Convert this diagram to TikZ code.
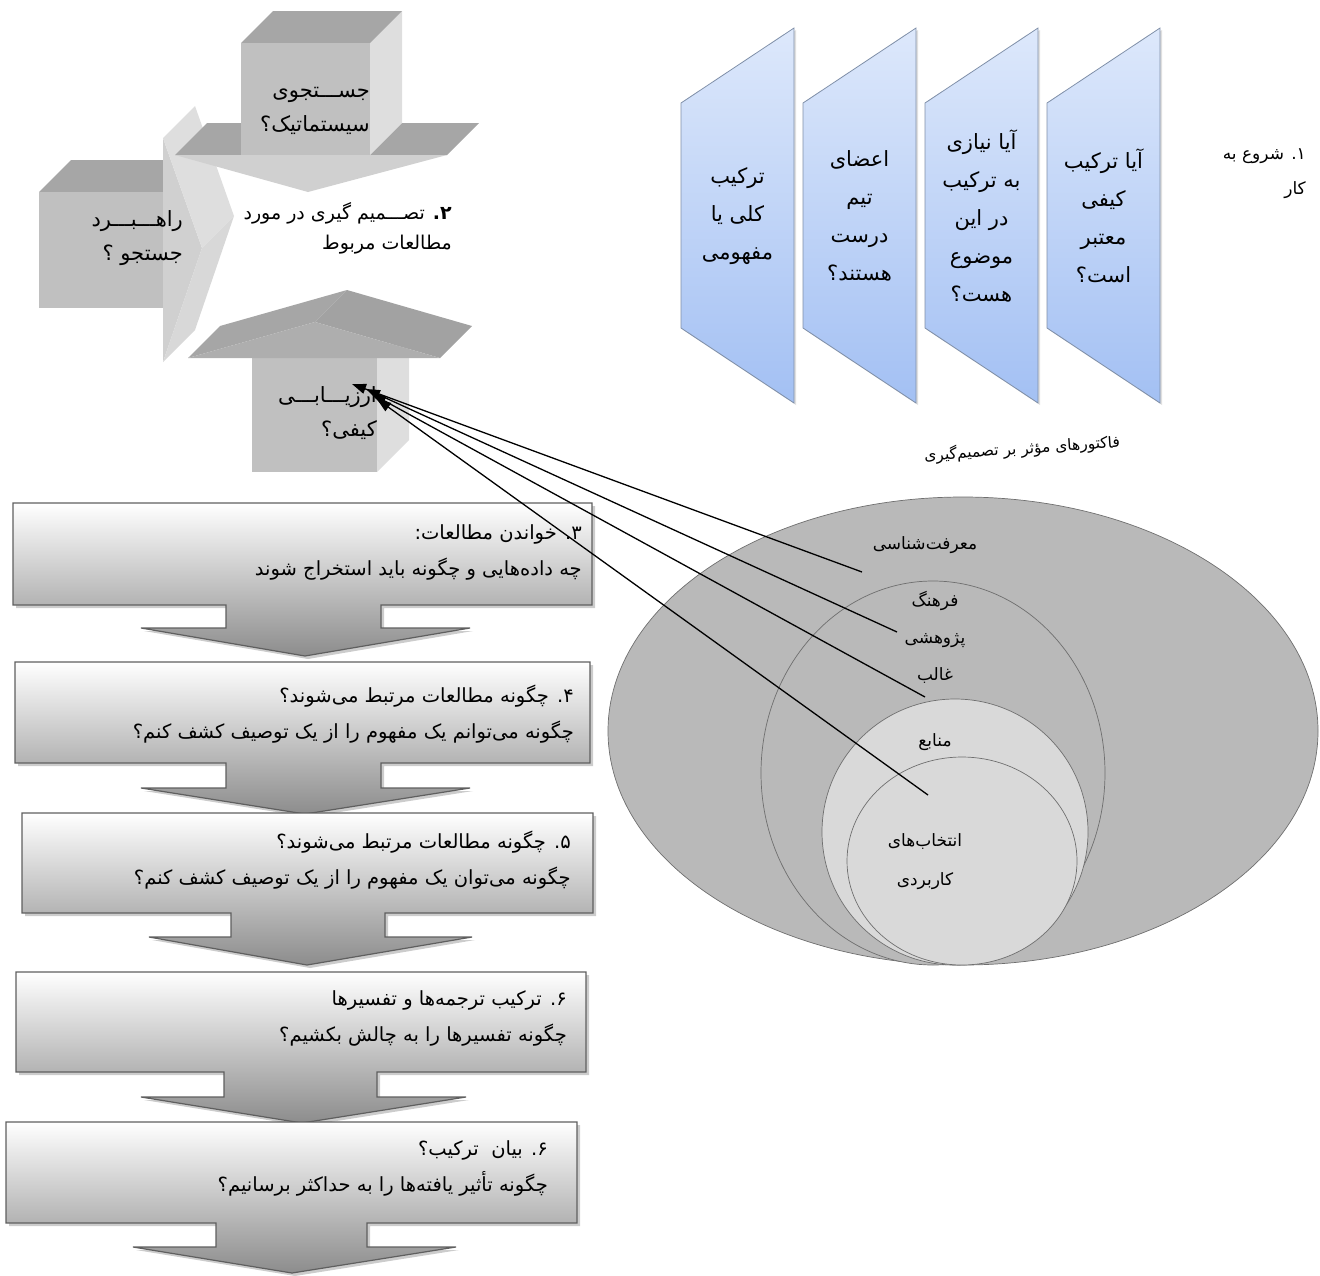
\documentclass[tikz,border=0pt]{standalone}
\usepackage{fontspec}
\newfontfamily\fa[Script=Arabic]{DejaVu Sans}
\TeXXeTstate=1
\usetikzlibrary{arrows.meta,shadows}
\newcommand{\faR}[1]{\beginR#1\endR}
\definecolor{faceDark}{HTML}{A6A6A6}
\definecolor{faceDarkB}{HTML}{A2A2A2}
\definecolor{faceHead}{HTML}{AEAEAE}
\definecolor{faceMid}{HTML}{C0C0C0}
\definecolor{faceLight}{HTML}{DEDEDE}
\definecolor{faceLightB}{HTML}{D8D8D8}
\definecolor{faceLightC}{HTML}{D0D0D0}
\definecolor{blueTop}{HTML}{DDE8FB}
\definecolor{blueBot}{HTML}{A3C0F3}
\definecolor{blueEdge}{HTML}{7F8FA8}
\definecolor{ellDark}{HTML}{B9B9B9}
\definecolor{ellLight}{HTML}{D9D9D9}
\definecolor{ellEdge}{HTML}{6F6F6F}
\definecolor{boxEdge}{HTML}{5F5F5F}
\begin{document}
\begin{tikzpicture}[x=1pt,y=-1pt,
  blueshape/.style={draw=blueEdge,line width=0.8pt,top color=blueTop,bottom color=blueBot,
    drop shadow={shadow xshift=2pt,shadow yshift=-2pt,opacity=0.25}},
  bluetxt/.style={font=\fa\fontsize{21}{38}\selectfont,inner sep=0pt,align=center},
  ell/.style={draw=ellEdge,line width=0.7pt},
  elltxt/.style={font=\fa\fontsize{17}{37}\selectfont,inner sep=0pt,align=center},
  callout/.style={draw=boxEdge,line width=1.2pt,top color=white,bottom color=black!45,
    drop shadow={shadow xshift=3pt,shadow yshift=-3pt,opacity=0.4}},
  flowtxt/.style={font=\fa\fontsize{19.5}{36}\selectfont,inner sep=0pt,align=right,anchor=east},
  arrtxt/.style={font=\fa\fontsize{21}{34}\selectfont,inner sep=0pt,align=right,anchor=east},
  conn/.style={line width=1.3pt,-{Triangle[length=14pt,width=10pt]}}
]
\useasboundingbox (0,0) rectangle (1320,1275);

% ---------- left 3D arrow (pointing right)
\fill[faceDark] (39,192) -- (71,160) -- (163,160) -- (163,192) -- cycle;
\fill[faceMid] (39,192) rectangle (163,308);
\fill[faceLightC] (163,138) -- (202,248) -- (163,362) -- cycle;
\fill[faceLight] (163,138) -- (195,106) -- (234,216) -- (202,248) -- cycle;
\fill[faceLightB] (202,248) -- (234,216) -- (195,330) -- (163,362) -- cycle;

% ---------- top 3D arrow (pointing down)
\fill[faceDark] (175,155) -- (207,123) -- (479,123) -- (447,155) -- cycle;
\fill[faceLight] (370,43) -- (402,11) -- (402,123) -- (370,155) -- cycle;
\fill[faceDark] (241,43) -- (273,11) -- (402,11) -- (370,43) -- cycle;
\fill[faceLightC] (175,155) -- (447,155) -- (308,192) -- cycle;
\fill[faceMid] (241,43) rectangle (370,155);

% ---------- bottom 3D arrow (pointing up)
\fill[faceLight] (377,358) -- (409,326) -- (409,440) -- (377,472) -- cycle;
\fill[faceMid] (252,358) rectangle (377,472);
\fill[faceDark] (188,358) -- (220,326) -- (347,290) -- (315,322) -- cycle;
\fill[faceDarkB] (315,322) -- (347,290) -- (472,326) -- (440,358) -- cycle;
\fill[faceHead] (188,358) -- (315,322) -- (440,358) -- cycle;

% ---------- texts of the 3D arrows
\node[arrtxt] (syst) at (370,111) {\faR{جســـتجوی}\\\faR{سیستماتیک؟}};
\node[arrtxt] (strat) at (183,238) {\faR{راهـــبـــرد}\\\faR{جستجو ؟}};
\node[arrtxt] (qual) at (377,413) {\faR{ارزیـــابـــی}\\\faR{کیفی؟}};
\node[arrtxt,font=\fa\fontsize{19}{30}\selectfont] (decide) at (452,228)
  {\faR{{\bfseries ۲.} تصـــمیم گیری در مورد}\\\faR{مطالعات مربوط}};

% ---------- blue step shapes
\path[blueshape] (681,103) -- (794,28) -- (794,403) -- (681,328) -- cycle;
\path[blueshape] (803,103) -- (916,28) -- (916,403) -- (803,328) -- cycle;
\path[blueshape] (925,103) -- (1038,28) -- (1038,403) -- (925,328) -- cycle;
\path[blueshape] (1047,103) -- (1160,28) -- (1160,403) -- (1047,328) -- cycle;
\node[bluetxt] (b1) at (737.5,216) {\faR{ترکیب}\\\faR{کلی یا}\\\faR{مفهومی}};
\node[bluetxt] (b2) at (859.5,216) {\faR{اعضای}\\\faR{تیم}\\\faR{درست}\\\faR{هستند؟}};
\node[bluetxt] (b3) at (981.5,216) {\faR{آیا نیازی}\\\faR{به ترکیب}\\\faR{در این}\\\faR{موضوع}\\\faR{هست؟}};
\node[bluetxt] (b4) at (1103.5,216) {\faR{آیا ترکیب}\\\faR{کیفی}\\\faR{معتبر}\\\faR{است؟}};
\node[font=\fa\fontsize{17}{35}\selectfont,inner sep=0pt,align=right,anchor=east] (start) at (1306,174)
  {\faR{۱. شروع به}\\\faR{کار}};

% ---------- factors ellipses
\node[font=\fa\fontsize{15.5}{17}\selectfont,inner sep=0pt,rotate=4] (factors) at (1022,449)
  {\faR{فاکتورهای مؤثر بر تصمیم‌گیری}};
\path[ell,fill=ellDark] (963,731) ellipse [x radius=355pt,y radius=234pt];
\path[ell,fill=ellDark] (933,773) ellipse [x radius=172pt,y radius=192pt];
\path[ell,fill=ellLight] (955,832) ellipse [x radius=133pt,y radius=133pt];
\path[ell,fill=ellLight] (962,861) ellipse [x radius=115pt,y radius=104pt];
\node[elltxt] (epist) at (925,545) {\faR{معرفت‌شناسی}};
\node[elltxt] (culture) at (935,637) {\faR{فرهنگ}\\\faR{پژوهشی}\\\faR{غالب}};
\node[elltxt] (res) at (935,742) {\faR{منابع}};
\node[elltxt,font=\fa\fontsize{17}{39}\selectfont] (choice) at (925,862) {\faR{انتخاب‌های}\\\faR{کاربردی}};

% ---------- flow chart callouts
\path[callout] (13,503) -- (592,503) -- (592,605) -- (381,605) -- (381,628) -- (470,628) -- (305,656)
  -- (141,628) -- (226,628) -- (226,605) -- (13,605) -- cycle;
\node[flowtxt] (s3) at (582,552) {\faR{۳. خواندن مطالعات:}\\\faR{چه داده‌هایی و چگونه باید استخراج شوند}};
\path[callout] (15,662) -- (590,662) -- (590,763) -- (381,763) -- (381,788) -- (470,788) -- (305,814)
  -- (141,788) -- (226,788) -- (226,763) -- (15,763) -- cycle;
\node[flowtxt] (s4) at (574,714) {\faR{۴. چگونه مطالعات مرتبط می‌شوند؟}\\\faR{چگونه می‌توانم یک مفهوم را از یک توصیف کشف کنم؟}};
\path[callout] (22,813) -- (593,813) -- (593,913) -- (385,913) -- (385,937) -- (472,937) -- (307,965)
  -- (149,937) -- (231,937) -- (231,913) -- (22,913) -- cycle;
\node[flowtxt] (s5) at (571,860) {\faR{۵. چگونه مطالعات مرتبط می‌شوند؟}\\\faR{چگونه می‌توان یک مفهوم را از یک توصیف کشف کنم؟}};
\path[callout] (16,972) -- (586,972) -- (586,1072) -- (377,1072) -- (377,1097) -- (466,1097) -- (302,1123)
  -- (141,1097) -- (224,1097) -- (224,1072) -- (16,1072) -- cycle;
\node[flowtxt] (s6) at (567,1018) {\faR{۶. ترکیب ترجمه‌ها و تفسیرها}\\\faR{چگونه تفسیرها را به چالش بکشیم؟}};
\path[callout] (6,1122) -- (577,1122) -- (577,1223) -- (367,1223) -- (367,1247) -- (456,1247) -- (292,1273)
  -- (133,1247) -- (216,1247) -- (216,1223) -- (6,1223) -- cycle;
\node[flowtxt] (s7) at (548,1168) {\faR{۶. بیان~~ترکیب؟}\\\faR{چگونه تأثیر یافته‌ها را به حداکثر برسانیم؟}};

% ---------- connectors from factors to quality appraisal
\coordinate (f1) at (862,572);
\coordinate (f2) at (897,632);
\coordinate (f3) at (925,697);
\coordinate (f4) at (928,795);
\coordinate (q1) at (352,384);
\coordinate (q2) at (366,389);
\coordinate (q3) at (372,394);
\coordinate (q4) at (377,399);
\draw[conn] (f1) -- (q1);
\draw[conn] (f2) -- (q2);
\draw[conn] (f3) -- (q3);
\draw[conn] (f4) -- (q4);
\end{tikzpicture}
\end{document}
